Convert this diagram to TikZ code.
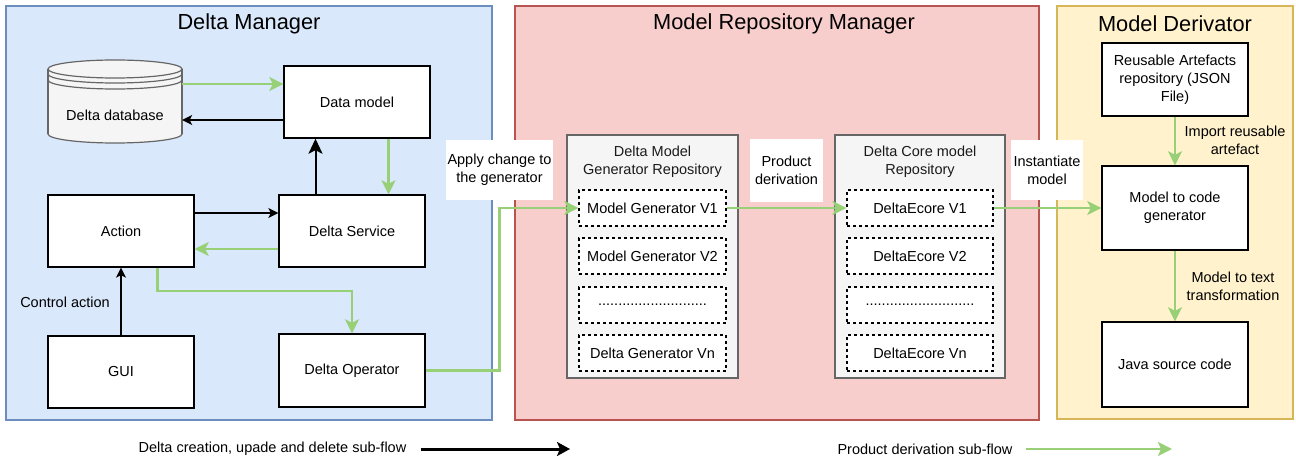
\documentclass[tikz,border=0pt]{standalone}
\usepackage{fontspec}
\setmainfont{Liberation Sans}
\usetikzlibrary{arrows.meta}

\definecolor{dmfill}{HTML}{DAE8FC}
\definecolor{dmline}{HTML}{6C8EBF}
\definecolor{rmfill}{HTML}{F8CECC}
\definecolor{rmline}{HTML}{B85450}
\definecolor{mdfill}{HTML}{FFF2CC}
\definecolor{mdline}{HTML}{D6B656}
\definecolor{repofill}{HTML}{F5F5F5}
\definecolor{repoline}{HTML}{666666}
\definecolor{repotext}{HTML}{1A1A1A}
\definecolor{flowgreen}{HTML}{97D077}

\tikzset{
	box/.style={draw=black, fill=white, line width=1.4pt, minimum width=146pt, minimum height=72pt, align=center},
	repo/.style={draw=repoline, fill=repofill, line width=1.4pt, minimum height=243pt},
	version/.style={draw=black, fill=white, dash pattern=on 3pt off 3pt, line width=1.2pt, minimum height=36pt},
	tag/.style={fill=white, align=center},
	paneltitle/.style={font=\fontsize{21.8}{26}\selectfont},
	blackflow/.style={draw=black, line width=1.2pt, -{Stealth[length=10pt,width=10pt,inset=2.5pt]}},
	greenflow/.style={draw=flowgreen, line width=2.3pt, -{Stealth[length=14pt,width=14pt,inset=3.5pt]}}
}

\begin{document}
\begin{tikzpicture}[x=1pt,y=-1pt,
	every node/.style={font=\fontsize{14.5}{18}\selectfont, inner sep=0pt}]
\useasboundingbox (0,0) rectangle (1296,462);
\def\dbrx{67pt}
\def\dbry{9pt}
\def\dotrow{...........................}

% panels
\draw[fill=dmfill, draw=dmline, line width=1.3pt] (6,6) rectangle (492,420);
\draw[fill=rmfill, draw=rmline, line width=1.3pt] (515,6) rectangle (1039,420);
\draw[fill=mdfill, draw=mdline, line width=1.3pt] (1057,6) rectangle (1293,419);
\node[paneltitle] (dmtitle) at (249,24) {Delta Manager};
\node[paneltitle] (rmtitle) at (784,24) {Model Repository Manager};
\node[paneltitle] (mdtitle) at (1175,24) {Model Derivator};

% edge labels
\node[tag, minimum width=107pt, minimum height=60pt] (apply) at (499.5,170) {Apply change to\\the generator};
\node[tag, minimum width=73pt, minimum height=63pt] (prod) at (786.5,170.5) {Product\\derivation};
\node[tag, minimum width=72pt, minimum height=60pt] (inst) at (1047,170) {Instantiate\\model};

% delta database (drum)
\node[minimum width=134pt, minimum height=83pt] (db) at (115,101.5) {};
\filldraw[fill=repofill, draw=repoline, line width=1.2pt] (115,134) ellipse [x radius=\dbrx, y radius=\dbry];
\fill[repofill] (48,69) rectangle (182,134);
\draw[repoline, line width=1.2pt] (48,69) -- (48,134) (182,69) -- (182,134);
\filldraw[fill=repofill, draw=repoline, line width=1.2pt] (115,69) ellipse [x radius=\dbrx, y radius=\dbry];
\draw[repoline, line width=1.2pt] (48,74) arc[start angle=180, end angle=360, x radius=\dbrx, y radius=\dbry];
\draw[repoline, line width=1.2pt] (48,80) arc[start angle=180, end angle=360, x radius=\dbrx, y radius=\dbry];
\node (dbtext) at (115,115) {Delta database};

% delta manager
\node[box] (dm) at (357,102) {Data model};
\node[box] (act) at (121,231) {Action};
\node[box] (ds) at (352,231) {Delta Service};
\node[box] (gui) at (121,372) {GUI};
\node[box, minimum height=73pt] (op) at (352,370.5) {Delta Operator};

% repositories
\node[repo, minimum width=171pt] (mgrepo) at (652.5,256.5) {};
\node[repo, minimum width=170pt] (derepo) at (920,256.5) {};
\node[text=repotext, align=center] (mgtitle) at (652.5,162) {Delta Model\\Generator Repository};
\node[text=repotext, align=center] (detitle) at (920,162) {Delta Core model\\Repository};
\foreach \i/\yy/\mtext/\dtext in {1/208/Model Generator V1/DeltaEcore V1,
	2/256/Model Generator V2/DeltaEcore V2,
	3/305/\dotrow/\dotrow,
	4/353/Delta Generator Vn/DeltaEcore Vn}
{
	\node[version, minimum width=147pt] (mg\i) at (652.5,\yy) {\mtext};
	\node[version, minimum width=146pt] (de\i) at (920,\yy) {\dtext};
}

% model derivator
\node[box, minimum height=73pt] (ra) at (1175,79.5) {Reusable Artefacts\\repository (JSON\\File)};
\node[box, minimum height=84pt] (mc) at (1175,208) {Model to code\\generator};
\node[box, minimum height=85pt] (java) at (1175,364.5) {Java source code};

% connectors
\coordinate (dmup) at ([yshift=18pt]dm.west);
\coordinate (dmlow) at ([yshift=-18pt]dm.west);
\draw[greenflow] (dmup -| db.east) -- (dmup);
\draw[blackflow] (dmlow) -- (dmlow -| db.east);

\coordinate (dsout) at ([xshift=-36.5pt]ds.north);
\coordinate (dsin) at ([xshift=36.5pt]ds.north);
\draw[blackflow, line width=2pt, -{Stealth[length=15pt,width=14pt,inset=3.5pt]}] (dsout) -- (dsout |- dm.south);
\draw[greenflow] (dsin |- dm.south) -- (dsin);

\draw[blackflow] ([yshift=18pt]act.east) -- ([yshift=18pt]ds.west);
\draw[greenflow] ([yshift=-18pt]ds.west) -- ([yshift=-18pt]act.east);
\draw[greenflow] ([xshift=36.5pt]act.south) -- ++(0,23) -| (op.north);
\draw[blackflow] (gui.north) -- (act.south);
\node (ctrl) at (65,302) {Control action};

\draw[greenflow] (op.east) -- (op.east -| apply.south) |- (mg1.west);
\draw[greenflow] (mg1.east) -- (de1.west);
\draw[greenflow] (de1.east) -- (mc.west);
\draw[greenflow] (ra.south) -- (mc.north);
\draw[greenflow] (mc.south) -- (java.north);
\node[align=center] (imp) at (1235,140) {Import reusable\\artefact};
\node[align=center] (m2t) at (1233,286) {Model to text\\transformation};

% legend
\node (lgblack) at (272.5,449) {Delta creation, upade and delete sub-flow};
\coordinate (lgblackend) at (570,449);
\draw[line width=3pt, -{Stealth[length=13pt,width=14pt,inset=3pt]}] ([xshift=14pt]lgblack.east) -- (lgblackend);
\node (lggreen) at (925,449) {Product derivation sub-flow};
\coordinate (lggreenend) at (1172,449);
\draw[flowgreen, line width=2.5pt, -{Stealth[length=14pt,width=14pt,inset=3pt]}] ([xshift=13pt]lggreen.east) -- (lggreenend);

\end{tikzpicture}
\end{document}
